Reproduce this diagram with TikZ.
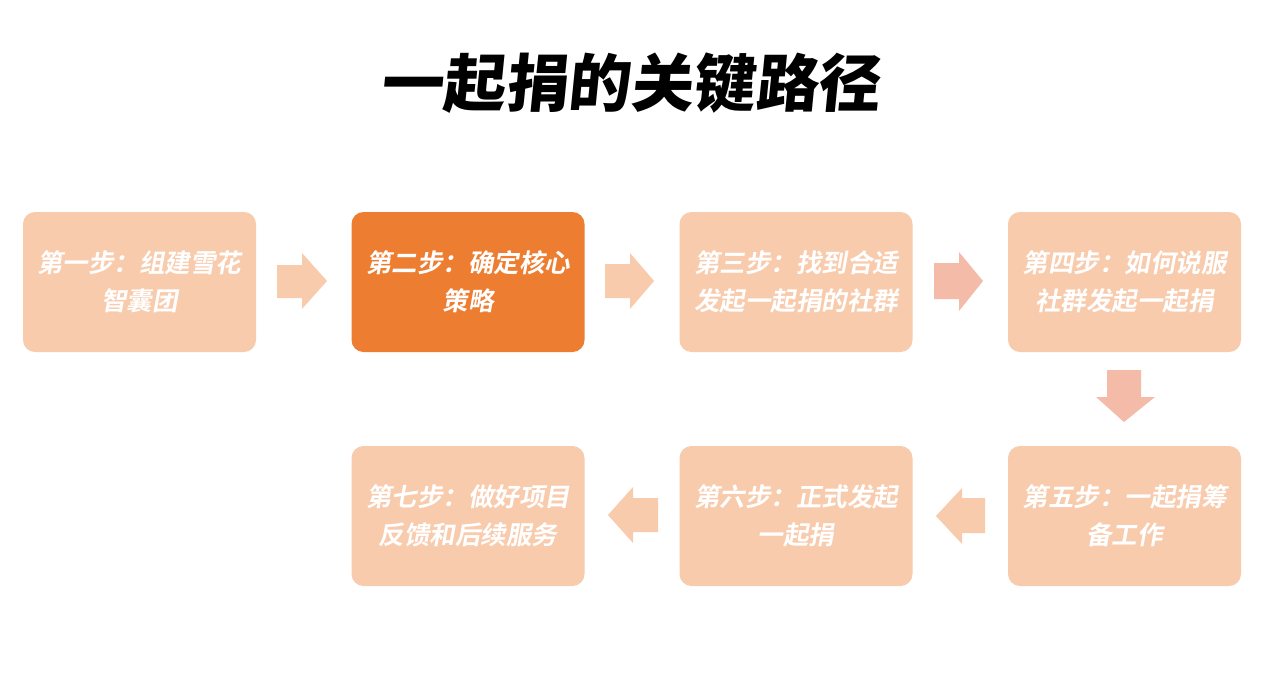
\documentclass[tikz,border=0pt]{standalone}
\usepackage{fontspec}
\newfontfamily\cjkslant{Noto Sans CJK SC Bold}[FakeSlant=0.18]
\newfontfamily\cjktitle{Noto Sans CJK SC Black}[FakeSlant=0.10]
\definecolor{lightor}{HTML}{F8CBAD}
\definecolor{darkor}{HTML}{ED7D31}
\definecolor{pinkar}{HTML}{F4BCA8}
\tikzset{
  stepbox/.style={fill=lightor, rounded corners=12pt, minimum width=233pt, minimum height=140pt,
    align=center, text=white, font=\cjkslant\fontsize{25.5pt}{38pt}\selectfont, inner sep=0pt},
  activebox/.style={stepbox, fill=darkor},
  blockarrow/.style={fill=lightor, draw=none},
  pinkarrow/.style={fill=pinkar, draw=none}
}
\begin{document}
\begin{tikzpicture}[x=1pt,y=-1pt]
\useasboundingbox (0,0) rectangle (1267,686);
\fill[white] (0,0) rectangle (1267,686);
\node[font=\cjktitle\fontsize{62.5pt}{62.5pt}\selectfont, text=black] (title) at (630,83) {一起捐的关键路径};
% row 1
\node[stepbox] (s1) at (139.5,282) {第一步：组建雪花\\智囊团};
\node[activebox] (s2) at (468,282) {第二步：确定核心\\策略};
\node[stepbox] (s3) at (796,282) {第三步：找到合适\\发起一起捐的社群};
\node[stepbox] (s4) at (1124.5,282) {第四步：如何说服\\社群发起一起捐};
% row 2
\node[stepbox] (s5) at (1124.5,516) {第五步：一起捐筹\\备工作};
\node[stepbox] (s6) at (796,516) {第六步：正式发起\\一起捐};
\node[stepbox] (s7) at (468,516) {第七步：做好项目\\反馈和后续服务};
% arrows row 1
\fill[blockarrow] (277,265) -- (302,265) -- (302,253) -- (327,281) -- (302,309) -- (302,298) -- (277,298) -- cycle;
\fill[blockarrow] (605,264) -- (630,264) -- (630,253) -- (654,281) -- (630,309) -- (630,298) -- (605,298) -- cycle;
\fill[pinkarrow] (934,263) -- (959,263) -- (959,252) -- (983,281) -- (959,311) -- (959,299) -- (934,299) -- cycle;
% down arrow
\fill[pinkarrow] (1107,370) -- (1141,370) -- (1141,397) -- (1155,397) -- (1124,422) -- (1096,397) -- (1107,397) -- cycle;
% arrows row 2
\fill[blockarrow] (985,498) -- (962,498) -- (962,488) -- (936,516) -- (962,544) -- (962,533) -- (985,533) -- cycle;
\fill[blockarrow] (658,498) -- (633,498) -- (633,487) -- (608,515) -- (633,543) -- (633,532) -- (658,532) -- cycle;
\end{tikzpicture}
\end{document}
